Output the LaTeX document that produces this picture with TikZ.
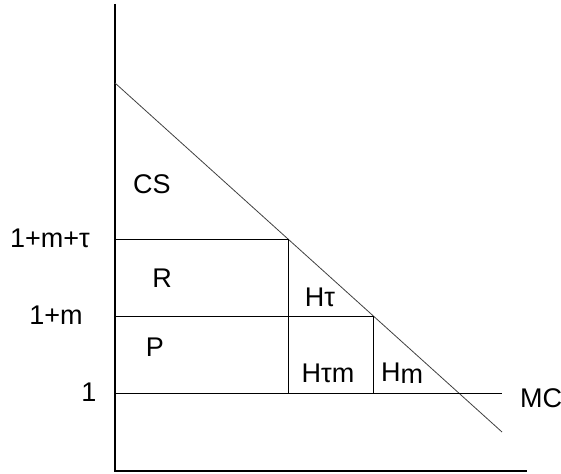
\documentclass[tikz,border=0pt]{standalone}
\usepackage{fontspec}
\setmainfont{Liberation Sans}
\begin{document}
\begin{tikzpicture}[x=1pt, y=-1pt,
  axis/.style={line width=1.7pt},
  rule/.style={line width=0.9pt},
  demand/.style={line width=0.8pt, black!75},
  lbl/.style={font=\fontsize{27}{32}\selectfont, inner sep=0pt}]
\useasboundingbox (0,0) rectangle (561,473);

% Axes
\coordinate (top) at (115,4);
\coordinate (origin) at (115,471);
\coordinate (xend) at (527,471);
\draw[axis] (top) -- (origin) -- (xend);

% Demand line
\coordinate (dtop) at (115,83);
\coordinate (dend) at (502,432);
\draw[demand] (dtop) -- (dend);

% Price levels
\coordinate (ytau) at (115,239);
\coordinate (qtau) at (288,239);
\coordinate (ym) at (115,316);
\coordinate (qm) at (373,316);
\coordinate (yone) at (115,393);
\coordinate (qtaubase) at (288,393);
\coordinate (qmbase) at (373,393);
\coordinate (mcend) at (502,393);
\draw[rule] (ytau) -- (qtau) -- (qtaubase);
\draw[rule] (ym) -- (qm) -- (qmbase);
\draw[rule] (yone) -- (mcend);

% Axis labels
\node[lbl] (ltau) at (50,238) {1+m+τ};
\node[lbl] (lm) at (56,315) {1+m};
\node[lbl] (lone) at (89,392) {1};
\node[lbl] (lmc) at (541,398) {MC};

% Areas
\node[lbl] (cs) at (152,184) {CS};
\node[lbl] (r) at (162,278) {R};
\node[lbl] (p) at (155,347) {P};
\node[lbl] (htau) at (320,297) {Hτ};
\node[lbl] (htaum) at (328,373) {Hτm};
\node[lbl] (hm) at (402,373) {H\raisebox{-1.5pt}{m}};

\end{tikzpicture}
\end{document}
